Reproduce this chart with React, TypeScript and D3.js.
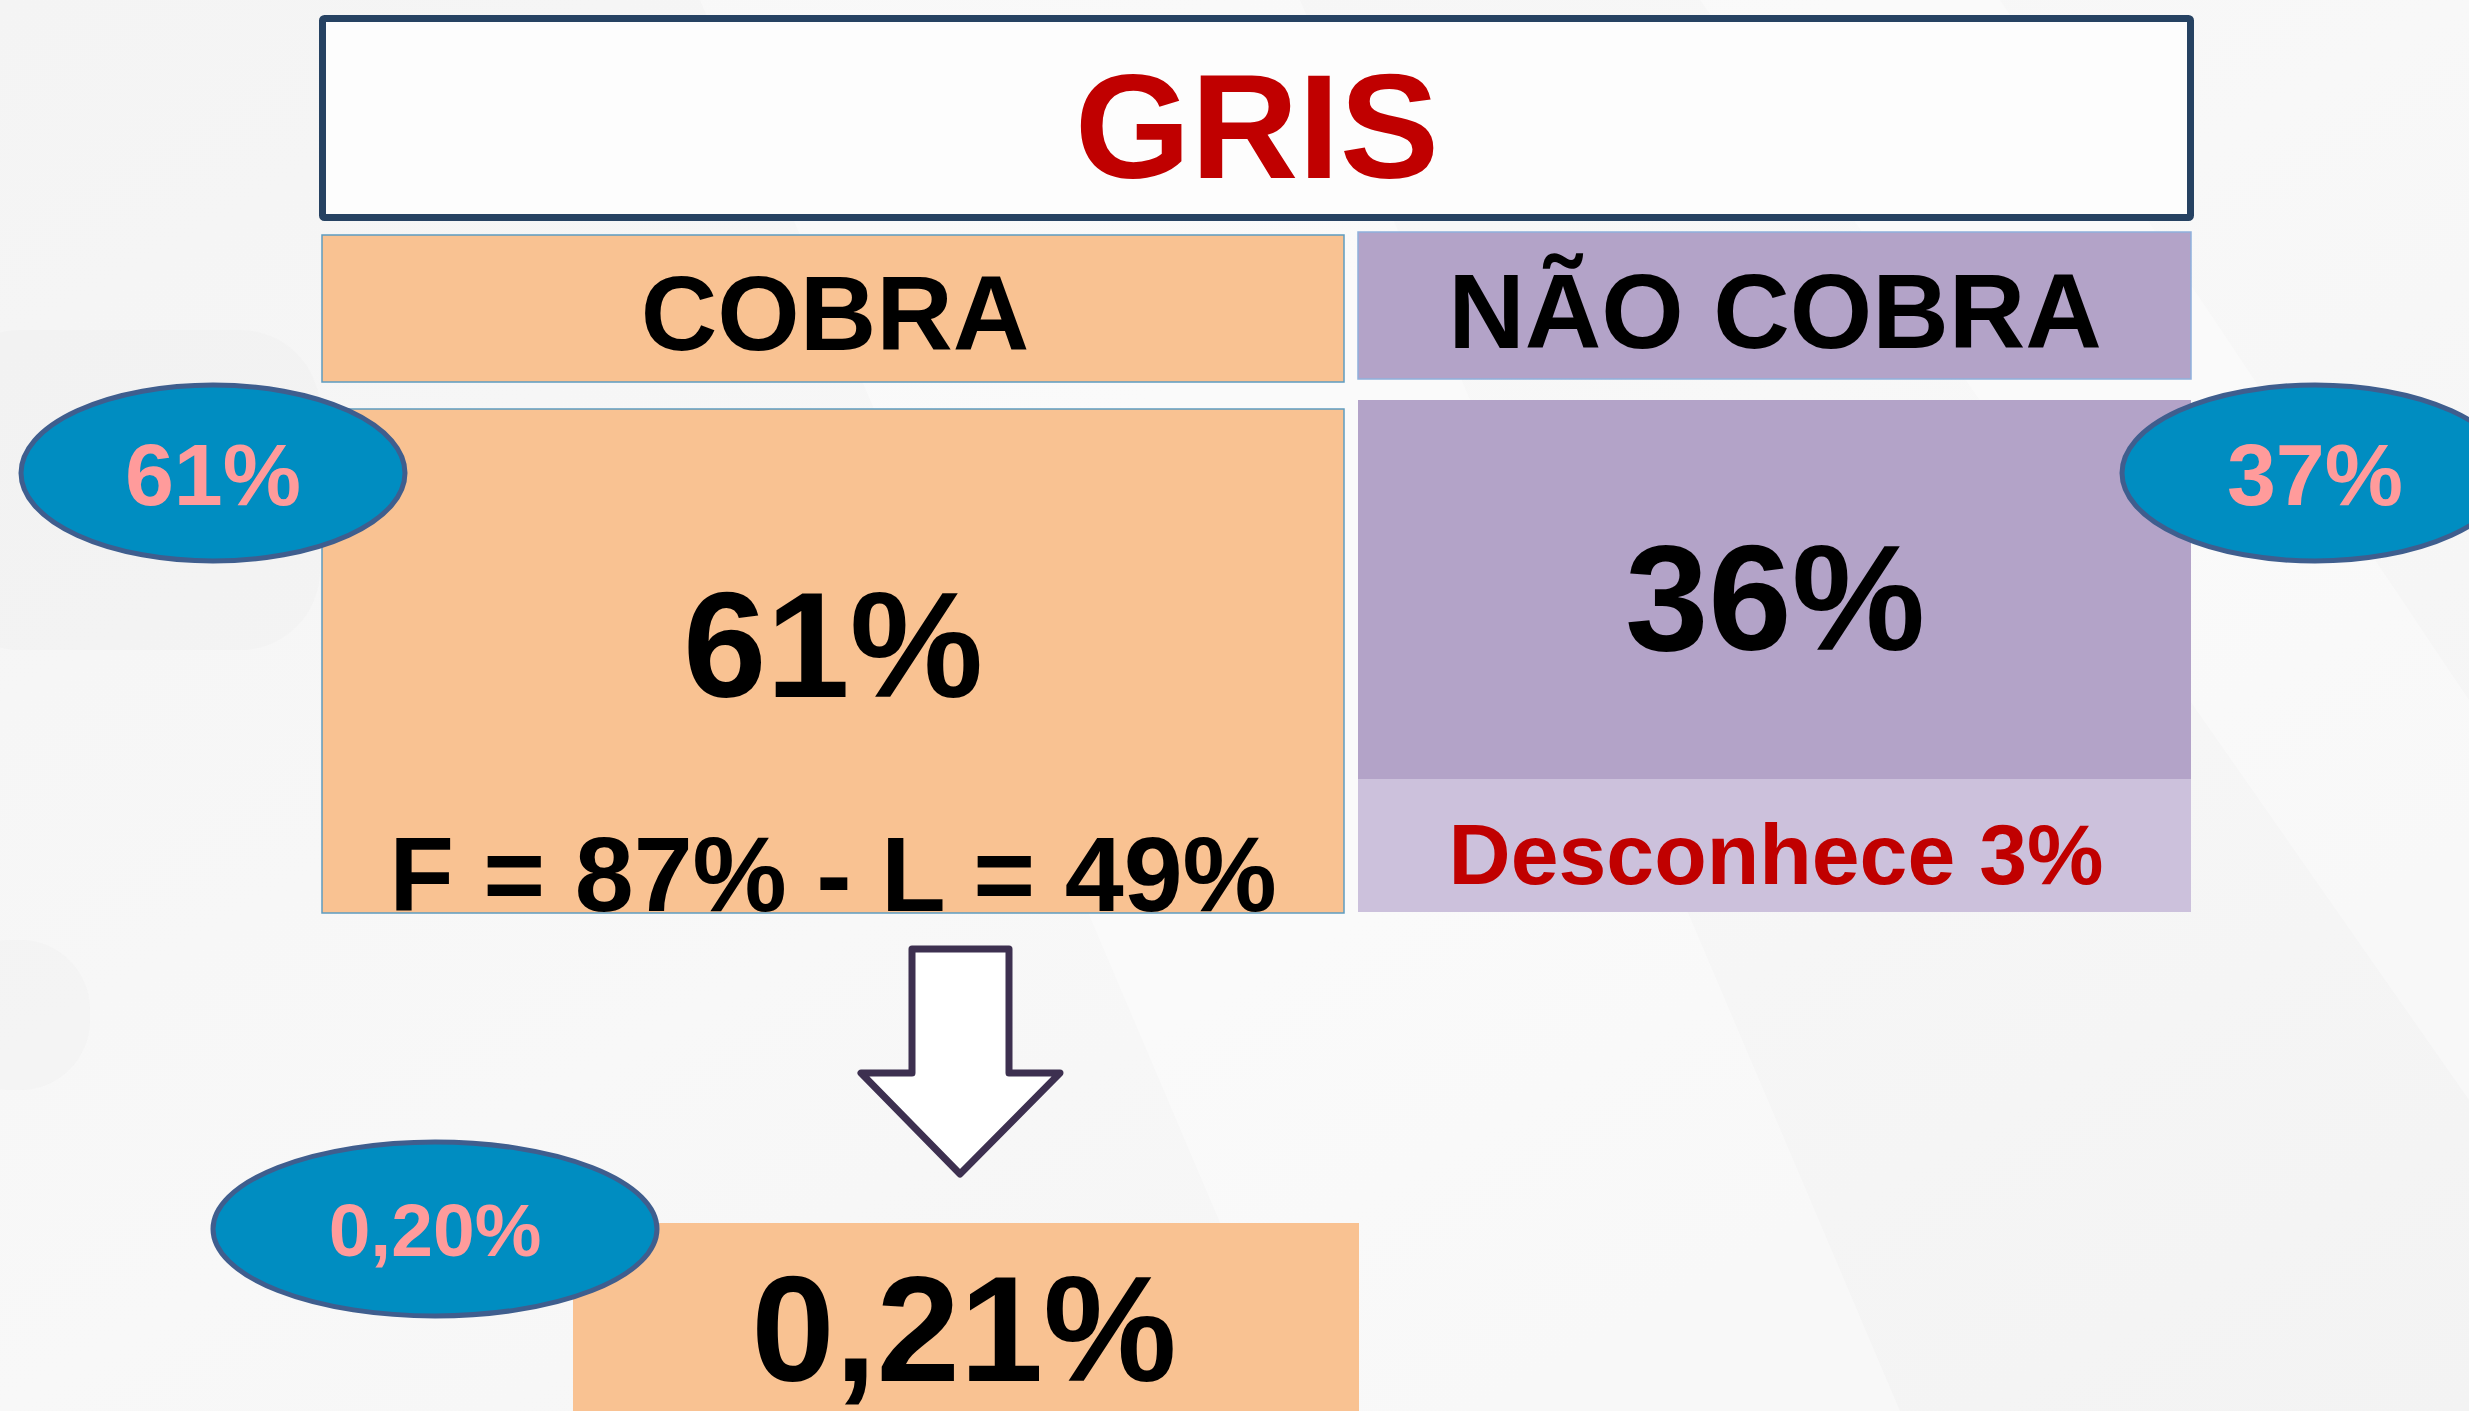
import React from "react";
import * as d3 from "d3";

const title = "GRIS";
const categories = ["COBRA", "NÃO COBRA"];
const mainValues = ["61%", "36%"];
const bubbleValues = ["61%", "37%"];
const cobraDetail = "F = 87% - L = 49%";
const unknownLabel = "Desconhece 3%";
const resultValue = "0,21%";
const resultBubble = "0,20%";

const W = 2469;
const H = 1411;
const FONT = "'Liberation Sans', Arial, sans-serif";
const PEACH = "#F9C292";
const LAV = "#B3A3C8";
const LAV_LIGHT = "#CCC1DC";
const BLUE = "#008DC1";
const BLUE_STROKE = "#3F5E8E";
const PINK = "#FF9B9B";
const RED = "#C00000";

function Bubble({ cx, cy, rx, ry, label, size }: any) {
  return (
    <g>
      <ellipse cx={cx} cy={cy} rx={rx} ry={ry} fill={BLUE} stroke={BLUE_STROKE} strokeWidth={5} />
      <text x={cx} y={cy + size * 0.36} textAnchor="middle" fontFamily={FONT} fontWeight="bold" fontSize={size} fill={PINK}>
        {label}
      </text>
    </g>
  );
}

export default function App() {
  const arrow = d3.line()([
    [912, 949], [1009, 949], [1009, 1073], [1060, 1073], [960, 1174], [861, 1073], [912, 1073],
  ]) + "Z";

  return (
    <svg width={W} height={H} style={{ position: "absolute", left: 0, top: 0 }}>
      <defs>
        <linearGradient id="bg" x1="0" y1="0" x2="1" y2="1">
          <stop offset="0" stopColor="#F4F4F4" />
          <stop offset="0.5" stopColor="#F8F8F8" />
          <stop offset="1" stopColor="#F3F3F3" />
        </linearGradient>
      </defs>
      <rect width={W} height={H} fill="url(#bg)" />
      <polygon points="700,0 1300,0 1900,1411 1300,1411" fill="#FFFFFF" opacity={0.35} />
      <polygon points="1700,0 2000,0 2469,700 2469,1100" fill="#FFFFFF" opacity={0.35} />
      <rect x={-60} y={330} width={380} height={320} rx={80} fill="#EDEDED" opacity={0.35} />
      <rect x={-60} y={940} width={150} height={150} rx={70} fill="#EDEDED" opacity={0.35} />

      {/* Title box */}
      <rect x={322.5} y={18.5} width={1868} height={199} fill="#FDFDFD" stroke="#264262" strokeWidth={7} rx={2} />
      <text x={1257} y={178} textAnchor="middle" fontFamily={FONT} fontWeight="bold" fontSize={149} fill={RED}>
        {title}
      </text>

      {/* Headers */}
      <rect x={322} y={235} width={1022} height={147} fill={PEACH} stroke="#5E9CC0" strokeWidth={1.5} />
      <rect x={1358} y={232} width={833} height={147} fill={LAV} stroke="#8FB0DC" strokeWidth={1.5} />
      <text x={835} y={350} textAnchor="middle" fontFamily={FONT} fontWeight="bold" fontSize={106} fill="#000">
        {categories[0]}
      </text>
      <text x={1775} y={348} textAnchor="middle" fontFamily={FONT} fontWeight="bold" fontSize={106} fill="#000">
        {categories[1]}
      </text>

      {/* Main boxes */}
      <rect x={322} y={409} width={1022} height={504} fill={PEACH} stroke="#5E9CC0" strokeWidth={1.5} />
      <rect x={1358} y={400} width={833} height={379} fill={LAV} />
      <rect x={1358} y={779} width={833} height={133} fill={LAV_LIGHT} />

      <text x={833} y={697} textAnchor="middle" fontFamily={FONT} fontWeight="bold" fontSize={150} fill="#000">
        {mainValues[0]}
      </text>
      <text x={833} y={911} textAnchor="middle" fontFamily={FONT} fontWeight="bold" fontSize={106} fill="#000">
        {cobraDetail}
      </text>
      <text x={1775} y={650} textAnchor="middle" fontFamily={FONT} fontWeight="bold" fontSize={150} fill="#000">
        {mainValues[1]}
      </text>
      <text x={1776} y={884} textAnchor="middle" fontFamily={FONT} fontWeight="bold" fontSize={86} fill={RED}>
        {unknownLabel}
      </text>

      {/* Bubbles */}
      <Bubble cx={213} cy={473} rx={192} ry={88} label={bubbleValues[0]} size={88} />
      <Bubble cx={2315} cy={473} rx={193} ry={88} label={bubbleValues[1]} size={88} />

      {/* Arrow */}
      <path d={arrow} fill="#FFFFFF" stroke="#3D3050" strokeWidth={7} strokeLinejoin="round" />

      {/* Result */}
      <rect x={573} y={1223} width={786} height={200} fill={PEACH} />
      <text x={964} y={1381} textAnchor="middle" fontFamily={FONT} fontWeight="bold" fontSize={150} fill="#000">
        {resultValue}
      </text>
      <Bubble cx={435} cy={1229} rx={222} ry={87} label={resultBubble} size={75} />
    </svg>
  );
}
